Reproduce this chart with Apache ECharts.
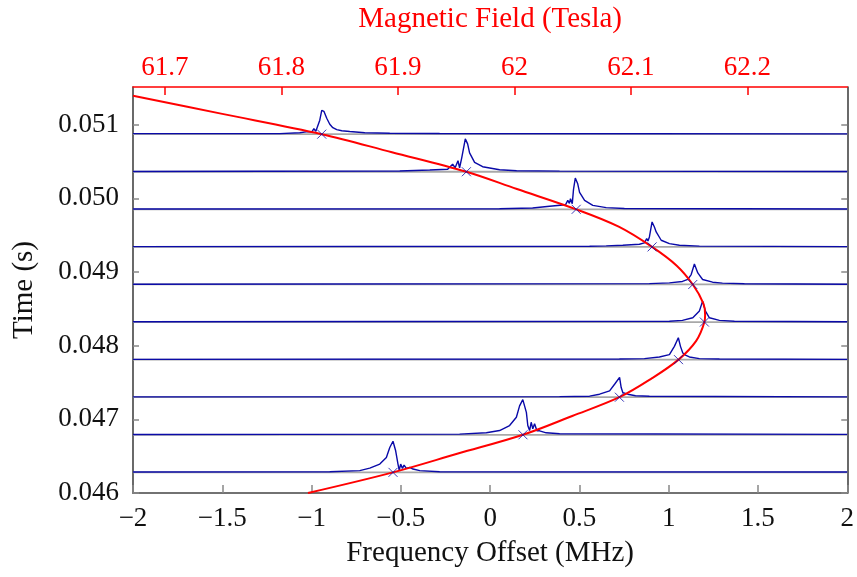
<!DOCTYPE html>
<html>
<head>
<meta charset="utf-8">
<script src="https://cdn.jsdelivr.net/npm/echarts@6/dist/echarts.min.js"></script>
<style>
  html, body { margin: 0; padding: 0; background: #fff; }
  #chart { width: 857px; height: 577px; }
</style>
</head>
<body>
<div id="chart"></div>
<script>
// Time (s) at which each spectrum was recorded (baseline of each trace), bottom to top
const traceTimes = [0.04628, 0.04679, 0.04730, 0.04781, 0.04832, 0.04883, 0.04934, 0.04985, 0.05036, 0.05087];

// Spectra: [frequency offset (MHz), signal] pairs; signal in units of 1e-6 on the time axis
const SIGNAL_UNIT = 1e-6;
const trace1 = [[-2,4],[-0.898,9],[-0.730,23],[-0.674,58],[-0.618,112],[-0.581,203],[-0.562,338],[-0.544,423],[-0.529,293],[-0.516,112],[-0.509,27],[-0.501,112],[-0.491,54],[-0.482,99],[-0.469,54],[-0.450,68],[-0.432,45],[-0.394,23],[-0.283,9],[2,4]];
const trace2 = [[-2,4],[-0.171,9],[-0.021,27],[0.053,58],[0.109,126],[0.147,238],[0.165,392],[0.183,477],[0.203,305],[0.211,126],[0.221,58],[0.230,170],[0.239,81],[0.249,149],[0.262,54],[0.277,54],[0.314,27],[0.389,14],[2,6]];
const trace3 = [[-2,4],[0.389,8],[0.557,14],[0.613,41],[0.669,85],[0.697,176],[0.725,270],[0.734,131],[0.743,63],[0.752,74],[0.771,41],[0.814,20],[0.892,14],[2,4]];
const trace4 = [[-2,4],[0.724,8],[0.864,14],[0.948,36],[1.004,68],[1.032,180],[1.054,297],[1.066,180],[1.079,90],[1.094,61],[1.105,74],[1.116,36],[1.172,14],[1.284,8],[2,4]];
const trace5 = [[-2,4],[1.004,11],[1.077,23],[1.135,58],[1.172,149],[1.190,284],[1.206,149],[1.228,58],[1.284,23],[1.368,11],[2,4]];
const trace6 = [[-2,4],[0.892,11],[1.004,22],[1.077,41],[1.107,68],[1.126,135],[1.144,278],[1.163,157],[1.190,68],[1.246,31],[1.301,18],[1.424,9],[2,4]];
const trace7 = [[-2,4],[0.557,9],[0.650,14],[0.743,23],[0.836,36],[0.864,54],[0.877,112],[0.884,81],[0.892,135],[0.907,338],[0.920,270],[0.930,203],[0.958,90],[1.004,45],[1.060,23],[1.172,11],[2,4]];
const trace8 = [[-2,4],[0.053,7],[0.238,18],[0.333,41],[0.422,61],[0.435,122],[0.444,81],[0.450,144],[0.460,77],[0.467,270],[0.477,423],[0.490,351],[0.501,230],[0.529,122],[0.575,54],[0.650,23],[0.752,11],[2,4]];
const trace9 = [[-2,4],[-0.506,11],[-0.338,24],[-0.238,34],[-0.210,103],[-0.196,54],[-0.180,149],[-0.171,54],[-0.159,189],[-0.139,446],[-0.126,378],[-0.115,257],[-0.087,128],[-0.042,68],[0.053,27],[0.148,14],[0.389,8],[2,4]];
const trace10 = [[-2,7],[-1.178,7],[-1.066,20],[-1.021,34],[-1.010,61],[-0.999,27],[-0.987,74],[-0.976,40],[-0.965,67],[-0.954,189],[-0.943,324],[-0.931,310],[-0.915,216],[-0.898,135],[-0.881,88],[-0.859,61],[-0.831,47],[-0.786,36],[-0.702,20],[-0.562,13],[-0.283,8],[2,4]];
const traces = [trace1, trace2, trace3, trace4, trace5, trace6, trace7, trace8, trace9, trace10];

// Resonance frequency at each recording time (marked with x)
const resonanceFreq = [-0.544, 0.184, 0.724, 1.055, 1.200, 1.135, 0.907, 0.482, -0.133, -0.943];

// Field sweep: frequency offset (MHz) vs time (s)
const sweepFreq = [-2.0, -1.5, -0.943, -0.55, -0.133, 0.15, 0.482, 0.72, 0.907, 1.045, 1.135, 1.194, 1.204, 1.200, 1.154, 1.055, 0.905, 0.724, 0.46, 0.184, -0.18, -0.544, -1.02];
const sweepTime = [0.05139, 0.051145, 0.05087, 0.050625, 0.05036, 0.050125, 0.04985, 0.049615, 0.04934, 0.049085, 0.04883, 0.048575, 0.04842, 0.04832, 0.048065, 0.04781, 0.047555, 0.04730, 0.047045, 0.04679, 0.046535, 0.04628, 0.04600];

// Axis ticks
const freqTicks = [-2, -1.5, -1, -0.5, 0, 0.5, 1, 1.5, 2];
const timeTicks = [0.046, 0.047, 0.048, 0.049, 0.050, 0.051];
const fieldTicks = [61.7, 61.8, 61.9, 62.0, 62.1, 62.2];
// Magnetic field at the ends of the frequency axis
const fieldRange = [61.6726, 62.2857];

const FONT = '"Liberation Serif", "DejaVu Serif", serif';
const BLUE = '#0a0aa8';
const RED = '#ff0000';
const TICK_FONT = 27;
const NAME_FONT = 29;

const fmtFreq = v => {
  const r = Math.round(v * 10) / 10;
  return r < 0 ? '\u2212' + String(Math.abs(r)) : String(r);
};

const series = [];
traceTimes.forEach((t0) => {
  series.push({
    type: 'line', xAxisIndex: 0, yAxisIndex: 0, z: 1,
    data: [[-2, t0], [2, t0]],
    symbol: 'none', silent: true,
    lineStyle: { color: '#a8a8a8', width: 1.8 }
  });
});
traceTimes.forEach((t0, i) => {
  series.push({
    type: 'line', xAxisIndex: 0, yAxisIndex: 0, z: 2,
    data: traces[i].map(([f, s]) => [f, t0 + s * SIGNAL_UNIT]),
    symbol: 'none', silent: true,
    lineStyle: { color: BLUE, width: 1.4 }
  });
});
series.push({
  type: 'line', xAxisIndex: 0, yAxisIndex: 0, z: 3,
  data: sweepFreq.map((f, i) => [f, sweepTime[i]]),
  smooth: 0.35,
  symbol: 'none', silent: true,
  lineStyle: { color: RED, width: 2 }
});
series.push({
  type: 'scatter', xAxisIndex: 0, yAxisIndex: 0, z: 4,
  data: traceTimes.map((t0, i) => [resonanceFreq[i], t0]),
  symbol: 'path://M0,0L10,10M10,0L0,10',
  symbolSize: 9, silent: true,
  itemStyle: { color: 'none', borderColor: BLUE, borderWidth: 1 }
});

const chart = echarts.init(document.getElementById('chart'), null, { renderer: 'canvas' });
chart.setOption({
  animation: false,
  backgroundColor: '#fff',
  grid: { left: 133, right: 9, top: 84, bottom: 84, containLabel: false },
  xAxis: [
    {
      type: 'value', position: 'bottom', min: -2, max: 2, interval: 0.5,
      name: 'Frequency Offset (MHz)', nameLocation: 'middle', nameGap: 46,
      nameTextStyle: { fontFamily: FONT, fontSize: NAME_FONT, color: '#111' },
      axisLine: { show: true, onZero: false, lineStyle: { color: '#444', width: 1.6 } },
      axisTick: { show: true, inside: true, length: 8, lineStyle: { color: '#888', width: 1.5 } },
      axisLabel: { fontFamily: FONT, fontSize: TICK_FONT, color: '#111', margin: 12, formatter: fmtFreq },
      splitLine: { show: false }
    },
    {
      type: 'value', position: 'top', min: fieldRange[0], max: fieldRange[1],
      name: 'Magnetic Field (Tesla)', nameLocation: 'middle', nameGap: 53,
      nameTextStyle: { fontFamily: FONT, fontSize: NAME_FONT, color: RED },
      axisLine: { show: true, onZero: false, lineStyle: { color: RED, width: 1.6 } },
      axisTick: { show: true, inside: true, length: 8, lineStyle: { color: RED, width: 1.5 }, customValues: fieldTicks },
      axisLabel: { fontFamily: FONT, fontSize: TICK_FONT, color: RED, margin: 6, customValues: fieldTicks,
        formatter: v => String(Math.round(v * 10) / 10) },
      splitLine: { show: false }
    }
  ],
  yAxis: [
    {
      type: 'value', position: 'left', min: 0.046, max: 0.05151,
      name: 'Time (s)', nameLocation: 'middle', nameGap: 94, nameRotate: 90,
      nameTextStyle: { fontFamily: FONT, fontSize: NAME_FONT, color: '#111' },
      axisLine: { show: true, onZero: false, lineStyle: { color: '#444', width: 1.6 } },
      axisTick: { show: true, inside: true, length: 6, lineStyle: { color: '#888', width: 1.5 }, customValues: timeTicks },
      axisLabel: { fontFamily: FONT, fontSize: TICK_FONT, color: '#111', margin: 14, customValues: timeTicks,
        formatter: v => v.toFixed(3) },
      splitLine: { show: false }
    },
    {
      type: 'value', position: 'right', min: 0.046, max: 0.05151,
      axisLine: { show: true, onZero: false, lineStyle: { color: '#444', width: 1.6 } },
      axisTick: { show: true, inside: true, length: 6, lineStyle: { color: '#888', width: 1.5 }, customValues: timeTicks },
      axisLabel: { show: false, customValues: timeTicks },
      splitLine: { show: false }
    }
  ],
  series: series
});
</script>
</body>
</html>
